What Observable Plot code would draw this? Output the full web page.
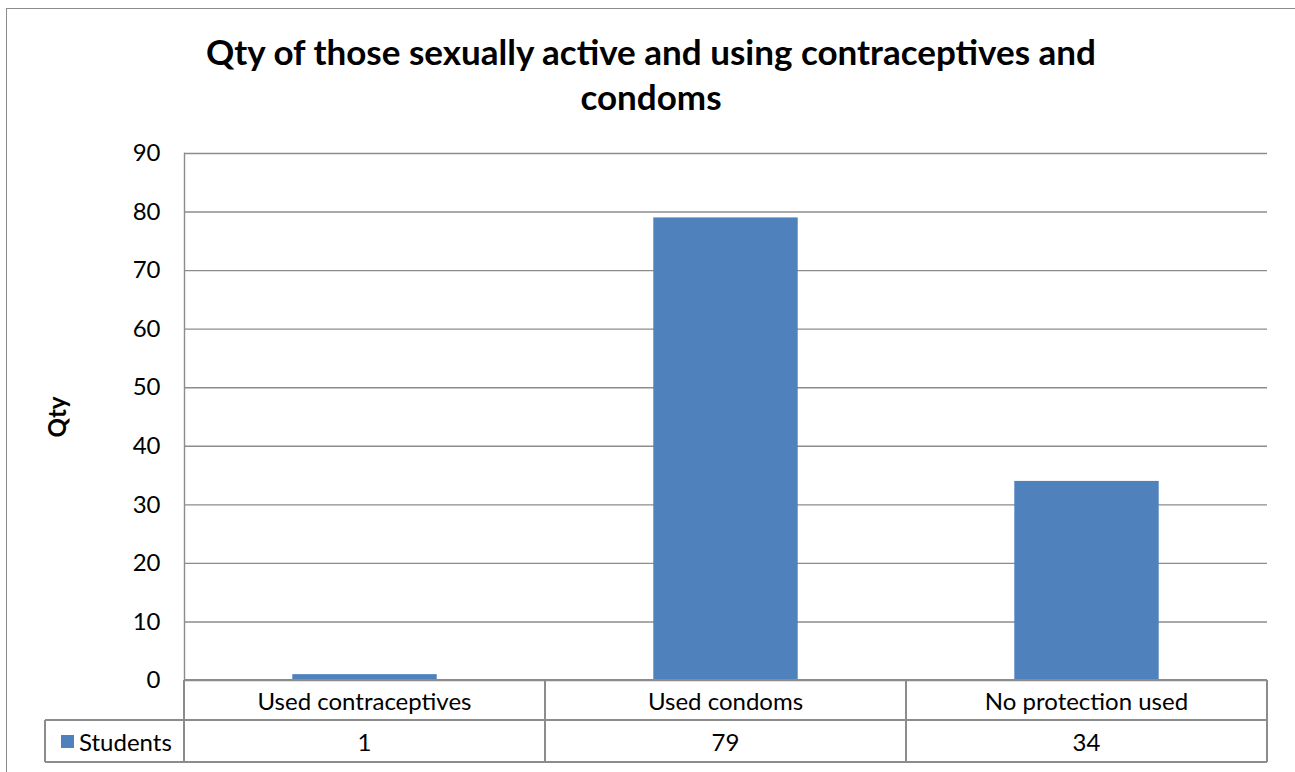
<!DOCTYPE html>
<html>
<head>
<meta charset="utf-8">
<script src="https://cdn.jsdelivr.net/npm/d3@7"></script>
<script src="https://cdn.jsdelivr.net/npm/@observablehq/plot@0.6"></script>
<style>
  body { margin: 0; background: #fff; }
  #wrap { position: relative; width: 1295px; height: 772px; overflow: hidden; font-family: Lato, "Open Sans", sans-serif; color: #000; }
  #frame { position: absolute; left: 6px; top: 8px; width: 1400px; height: 900px; border: 1px solid #8c8c8c; box-sizing: border-box; }
  #title { position: absolute; left: 0; top: 29px; width: 1302px; text-align: center; font-weight: bold; font-size: 35px; line-height: 45px; }
  #chart { position: absolute; left: 0; top: 0; }
  .cell { position: absolute; box-sizing: border-box; display: flex; align-items: center; justify-content: center; font-size: 24px; }
  .hline, .vline { position: absolute; background: #8c8c8c; }
</style>
</head>
<body>
<div id="wrap">
  <div id="frame"></div>
  <div id="title"></div>
  <div id="chart"></div>
</div>
<script>
// Chart content
const titleLines = ["Qty of those sexually active and using contraceptives and", "condoms"];
const yLabel = "Qty";
const seriesName = "Students";
const categories = ["Used contraceptives", "Used condoms", "No protection used"];
const values = [1, 79, 34];
const yTicks = [0, 10, 20, 30, 40, 50, 60, 70, 80, 90];
const barColor = "#4F81BD";
const lineColor = "#8c8c8c";

const data = categories.map((c, i) => ({category: c, value: values[i]}));

const W = 1295, H = 772;
const margin = {top: 153, right: 28, bottom: 92, left: 184};
const band = (W - margin.left - margin.right) / categories.length;
const inset = band * 0.3;

document.getElementById("title").innerHTML = titleLines.join("<br>");

const chart = Plot.plot({
  width: W,
  height: H,
  marginTop: margin.top,
  marginRight: margin.right,
  marginBottom: margin.bottom,
  marginLeft: margin.left,
  style: {fontFamily: "Lato, 'Open Sans', sans-serif", background: "transparent", color: "#000"},
  x: {domain: categories, padding: 0, axis: null},
  y: {domain: [0, 90], axis: null},
  marks: [
    Plot.gridY(yTicks, {stroke: lineColor, strokeOpacity: 1, strokeWidth: 1.4}),
    Plot.frame({anchor: "left", stroke: lineColor, strokeWidth: 1.4}),
    Plot.barY(data, {x: "category", y: "value", fill: barColor, insetLeft: inset, insetRight: inset}),
    Plot.axisY(yTicks, {tickSize: 0, tickPadding: 24, fontSize: 24, label: null}),
    Plot.text([yLabel], {frameAnchor: "left", textAnchor: "middle", dx: -126, rotate: -90, fontWeight: "bold", fontSize: 24})
  ]
});
document.getElementById("chart").appendChild(chart);

// Data table beneath the plot, laid out on the plot's own x scale
const wrap = document.getElementById("wrap");
const xs = chart.scale("x");
const bw = xs.bandwidth;
const rowTop = H - margin.bottom;      // y = 0 baseline
const rowMid = rowTop + 40;
const rowBot = rowTop + 82;
const tableLeft = 45;
const plotLeft = xs.apply(categories[0]);
const plotRight = xs.apply(categories[categories.length - 1]) + bw;

function add(cls, styles, html) {
  const el = document.createElement("div");
  el.className = cls;
  Object.assign(el.style, styles);
  if (html != null) el.innerHTML = html;
  wrap.appendChild(el);
  return el;
}
const lw = 1.5;
// horizontal rules
add("hline", {left: plotLeft + "px", top: (rowTop - lw / 2) + "px", width: (plotRight - plotLeft) + "px", height: lw + "px"});
add("hline", {left: tableLeft + "px", top: (rowMid - lw / 2) + "px", width: (plotRight - tableLeft) + "px", height: lw + "px"});
add("hline", {left: tableLeft + "px", top: (rowBot - lw / 2) + "px", width: (plotRight - tableLeft) + "px", height: lw + "px"});
// vertical rules
add("vline", {left: (tableLeft - lw / 2) + "px", top: rowMid + "px", width: lw + "px", height: (rowBot - rowMid) + "px"});
add("vline", {left: (plotLeft - lw / 2) + "px", top: rowTop + "px", width: lw + "px", height: (rowBot - rowTop) + "px"});
categories.forEach(c => {
  const x1 = xs.apply(c) + bw;
  add("vline", {left: (x1 - lw / 2) + "px", top: rowTop + "px", width: lw + "px", height: (rowBot - rowTop) + "px"});
});
// cells
categories.forEach((c, i) => {
  const x0 = xs.apply(c);
  add("cell", {left: x0 + "px", top: rowTop + "px", width: bw + "px", height: (rowMid - rowTop) + "px"}, c);
  add("cell", {left: x0 + "px", top: rowMid + "px", width: bw + "px", height: (rowBot - rowMid) + "px"}, String(values[i]));
});
// legend key cell
add("cell", {left: tableLeft + "px", top: rowMid + "px", width: (plotLeft - tableLeft) + "px", height: (rowBot - rowMid) + "px", justifyContent: "flex-start", paddingLeft: "16px"},
  `<span style="display:inline-block;width:13px;height:13px;background:${barColor};margin-right:5px"></span>${seriesName}`);
</script>
</body>
</html>
